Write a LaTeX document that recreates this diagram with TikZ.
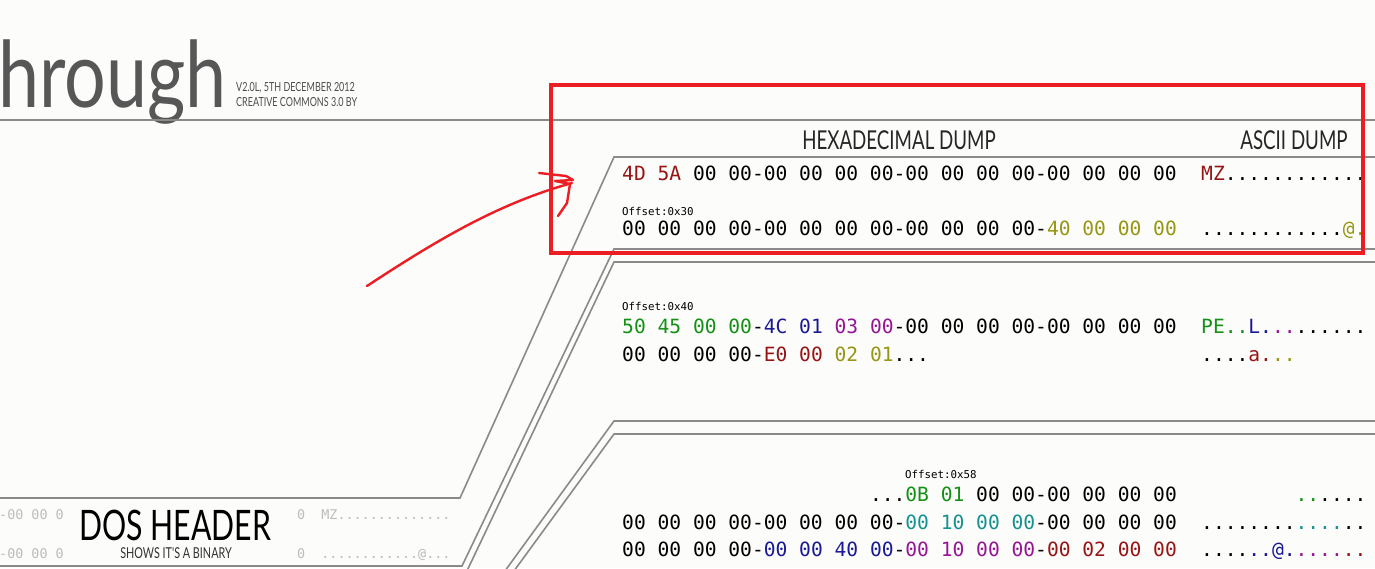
\documentclass[tikz,border=0pt]{standalone}
\usepackage{fontspec}
\usepackage{xcolor}
\usepackage{tikz}
\usetikzlibrary{positioning, calc}
\setmonofont{DejaVu Sans Mono}
\newfontfamily\handfont[FakeStretch=0.72]{Lato}
\newfontfamily\titlefont[FakeStretch=0.8]{Lato}

\definecolor{paper}{RGB}{252,252,250}
\definecolor{rulegray}{RGB}{138,138,138}
\definecolor{hxred}{RGB}{150,20,20}
\definecolor{hxgreen}{RGB}{20,145,20}
\definecolor{hxblue}{RGB}{25,25,150}
\definecolor{hxpurple}{RGB}{150,20,150}
\definecolor{hxolive}{RGB}{150,150,20}
\definecolor{hxteal}{RGB}{20,145,145}
\definecolor{ghost}{RGB}{188,188,188}
\definecolor{inkred}{RGB}{236,30,36}

\newcommand{\hxr}[1]{\textcolor{hxred}{#1}}
\newcommand{\hxg}[1]{\textcolor{hxgreen}{#1}}
\newcommand{\hxb}[1]{\textcolor{hxblue}{#1}}
\newcommand{\hxp}[1]{\textcolor{hxpurple}{#1}}
\newcommand{\hxo}[1]{\textcolor{hxolive}{#1}}
\newcommand{\hxt}[1]{\textcolor{hxteal}{#1}}

\begin{document}
\begin{tikzpicture}[x=1pt, y=-1pt,
    hexrow/.style={anchor=base west, inner sep=0pt, font=\ttfamily\fontsize{19.6}{20}\selectfont},
    offs/.style={anchor=base west, inner sep=0pt, font=\ttfamily\fontsize{10.8}{11}\selectfont},
    ghostrow/.style={anchor=base west, inner sep=0pt, text=ghost, font=\ttfamily\fontsize{13.4}{14}\selectfont},
    head/.style={anchor=base, inner sep=0pt, text=black!85, font=\handfont\fontsize{26}{26}\selectfont},
    rul/.style={draw=rulegray, line width=1.6pt},
    ink/.style={draw=inkred, line cap=round, line join=round}]

    \fill[paper] (0,0) rectangle (1375,568);
    \clip (0,0) rectangle (1375,568);

    % === TITLE ===
    \node[anchor=base west, inner sep=0pt, text=black!66, font=\titlefont\fontsize{92}{92}\selectfont]
      (title) at (-2,107) {hrough};
    \node[anchor=base west, inner sep=0pt, text=black!70, font=\handfont\fontsize{12.5}{13}\selectfont]
      (ver) at (236,91) {V2.0L, 5TH DECEMBER 2012};
    \node[anchor=base west, inner sep=0pt, text=black!70, font=\handfont\fontsize{12.5}{13}\selectfont]
      (lic) at (236,106) {CREATIVE COMMONS 3.0 BY};

    % === RULES ===
    \draw[rul] (0,120) -- (1375,120);
    \draw[rul] (1375,157) -- (614,157) -- (460,498) -- (0,498);
    \draw[rul] (1375,249) -- (614,249) -- (462,566) -- (0,566);
    \draw[rul] (1375,262) -- (614,262) -- (465,575);
    \draw[rul] (1375,421) -- (614,421) -- (502,575);
    \draw[rul] (1375,434) -- (614,434) -- (511,575);

    % === COLUMN HEADS ===
    \node[head] (hexhead) at (899,149) {HEXADECIMAL DUMP};
    \node[head] (aschead) at (1294,149) {ASCII DUMP};

    % === DOS HEADER (zoomed out) ===
    \node[ghostrow] (g1l) at (-1,519) {-00 00 0};
    \node[ghostrow] (g1r) at (297,519) {0~~MZ..............};
    \node[ghostrow] (g2l) at (-1,558) {-00 00 0};
    \node[ghostrow] (g2r) at (297,558) {0~~............@...};
    \node[anchor=base, inner sep=0pt, font=\handfont\fontsize{42}{42}\selectfont]
      (dos) at (175,540) {DOS HEADER};
    \node[anchor=base, inner sep=0pt, text=black!80, font=\handfont\fontsize{15}{15}\selectfont]
      (dossub) at (176,558) {SHOWS IT'S A BINARY};

    % === PANEL 1: offset 0x00 / 0x30 ===
    \node[hexrow] (h1) at (622,180) {\hxr{4D 5A} 00 00-00 00 00 00-00 00 00 00-00 00 00 00};
    \node[hexrow] (a1) at (1201,180) {\hxr{MZ}............};
    \node[offs]   (o30) at (622,215) {Offset:0x30};
    \node[hexrow] (h2) at (622,235) {00 00 00 00-00 00 00 00-00 00 00 00-\hxo{40 00 00 00}};
    \node[hexrow] (a2) at (1201,235) {............\hxo{@.}};

    % === PANEL 2: offset 0x40 ===
    \node[offs]   (o40) at (622,310) {Offset:0x40};
    \node[hexrow] (h3) at (622,333) {\hxg{50 45 00 00}-\hxb{4C 01} \hxp{03 00}-00 00 00 00-00 00 00 00};
    \node[hexrow] (a3) at (1201,333) {\hxg{PE..}\hxb{L.}\hxp{..}......};
    \node[hexrow] (h4) at (622,361) {00 00 00 00-\hxr{E0 00} \hxo{02 01}...};
    \node[hexrow] (a4) at (1201,361) {....\hxr{a.}\hxo{..}};

    % === PANEL 3: offset 0x58 ===
    \node[offs]   (o58) at (905,478) {Offset:0x58};
    \node[hexrow] (h5) at (622,501) {\hphantom{00~00~00~00-00~00~00~}...\hxg{0B 01} 00 00-00 00 00 00};
    \node[hexrow] (a5) at (1201,501) {\hphantom{........}\hxg{..}....};
    \node[hexrow] (h6) at (622,529) {00 00 00 00-00 00 00 00-\hxt{00 10 00 00}-00 00 00 00};
    \node[hexrow] (a6) at (1201,529) {........\hxt{....}..};
    \node[hexrow] (h7) at (622,556) {00 00 00 00-\hxb{00 00 40 00}-\hxp{00 10 00 00}-\hxr{00 02 00 00}};
    \node[hexrow] (a7) at (1201,556) {....\hxb{..@.}\hxp{....}\hxr{..}};

    % === RED MARK-UP ===
    \draw[ink, line width=4pt, line cap=butt, line join=miter] (551,85) rectangle (1363,253);
    \coordinate (tip) at (572,183);
    \draw[ink, line width=2.4pt] (367,286) .. controls (440,238) and (500,203) .. (tip);
    \draw[ink, line width=2.4pt] (539,173) -- (566,176) -- (573,180) -- (555,181)
      -- (570,184) -- (567,203) -- (558,216);

\end{tikzpicture}
\end{document}
